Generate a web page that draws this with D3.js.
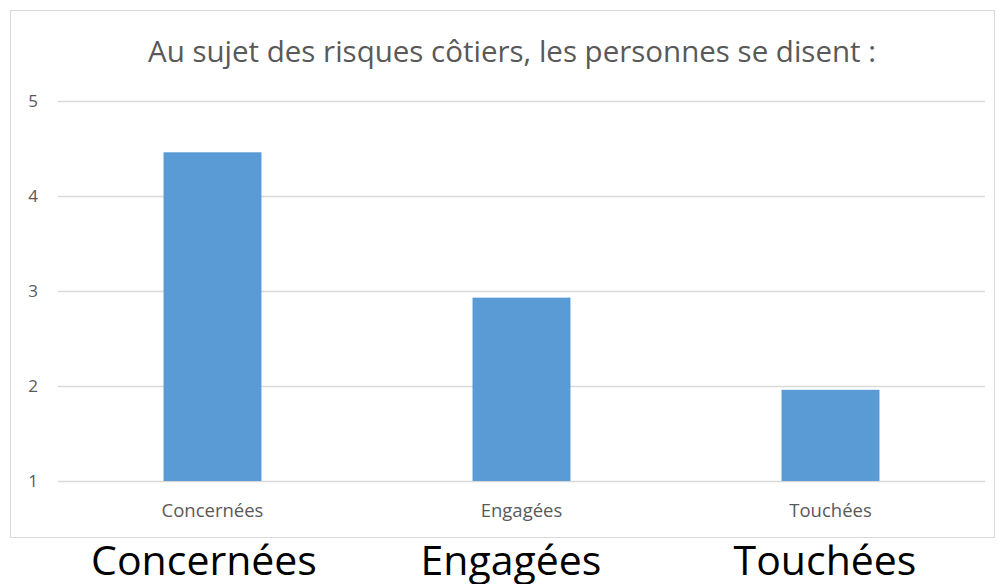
<!DOCTYPE html>
<html lang="fr">
<head>
  <meta charset="UTF-8">
  <title>Risques côtiers</title>
  <script src="https://d3js.org/d3.v7.min.js"></script>
  <style>
    body { margin: 0; background: #fff; }
    text { font-family: "Open Sans", "Noto Sans", sans-serif; }
  </style>
</head>
<body>
  <svg id="chart" width="998" height="584"></svg>

  <script>
    // Data
    const categories = ["Concernées", "Engagées", "Touchées"];
    const values = [4.46, 2.93, 1.96];
    const yTicks = [1, 2, 3, 4, 5];
    const title = "Au sujet des risques côtiers, les personnes se disent :";

    const svg = d3.select("#chart");

    // chart frame
    svg.append("rect")
      .attr("x", 10.5).attr("y", 10.5)
      .attr("width", 984).attr("height", 527)
      .attr("fill", "#fff")
      .attr("stroke", "#d9d9d9");

    const x = d3.scaleBand()
      .domain(categories)
      .range([58, 985])
      .paddingInner(0.683)
      .paddingOuter(0.3415);

    const y = d3.scaleLinear()
      .domain([1, 5])
      .range([481, 101]);

    // gridlines
    svg.append("g")
      .selectAll("line")
      .data(yTicks)
      .join("line")
      .attr("x1", 58).attr("x2", 985)
      .attr("y1", d => Math.round(y(d)) + 0.5)
      .attr("y2", d => Math.round(y(d)) + 0.5)
      .attr("stroke", "#d9d9d9")
      .attr("stroke-width", 1.5);

    // y tick labels
    svg.append("g")
      .selectAll("text")
      .data(yTicks)
      .join("text")
      .attr("x", 33)
      .attr("y", d => y(d))
      .attr("dy", "0.35em")
      .attr("text-anchor", "middle")
      .attr("fill", "#595959")
      .style("font-size", "17px")
      .text(d => d);

    // bars
    svg.append("g")
      .selectAll("rect")
      .data(values)
      .join("rect")
      .attr("x", (d, i) => x(categories[i]))
      .attr("width", x.bandwidth())
      .attr("y", d => y(d))
      .attr("height", d => y(1) - y(d))
      .attr("fill", "#5b9bd5");

    // small category labels
    svg.append("g")
      .selectAll("text")
      .data(categories)
      .join("text")
      .attr("x", d => x(d) + x.bandwidth() / 2)
      .attr("y", 517)
      .attr("text-anchor", "middle")
      .attr("fill", "#595959")
      .style("font-size", "18.5px")
      .text(d => d);

    // title
    svg.append("text")
      .attr("x", 512)
      .attr("y", 62)
      .attr("text-anchor", "middle")
      .attr("fill", "#595959")
      .style("font-size", "29.5px")
      .text(title);

    // large labels under the frame
    const bigX = [204, 511, 825];
    svg.append("g")
      .selectAll("text")
      .data(categories)
      .join("text")
      .attr("x", (d, i) => bigX[i])
      .attr("y", 575)
      .attr("text-anchor", "middle")
      .attr("fill", "#000")
      .style("font-size", "41px")
      .text(d => d);
  </script>
</body>
</html>
